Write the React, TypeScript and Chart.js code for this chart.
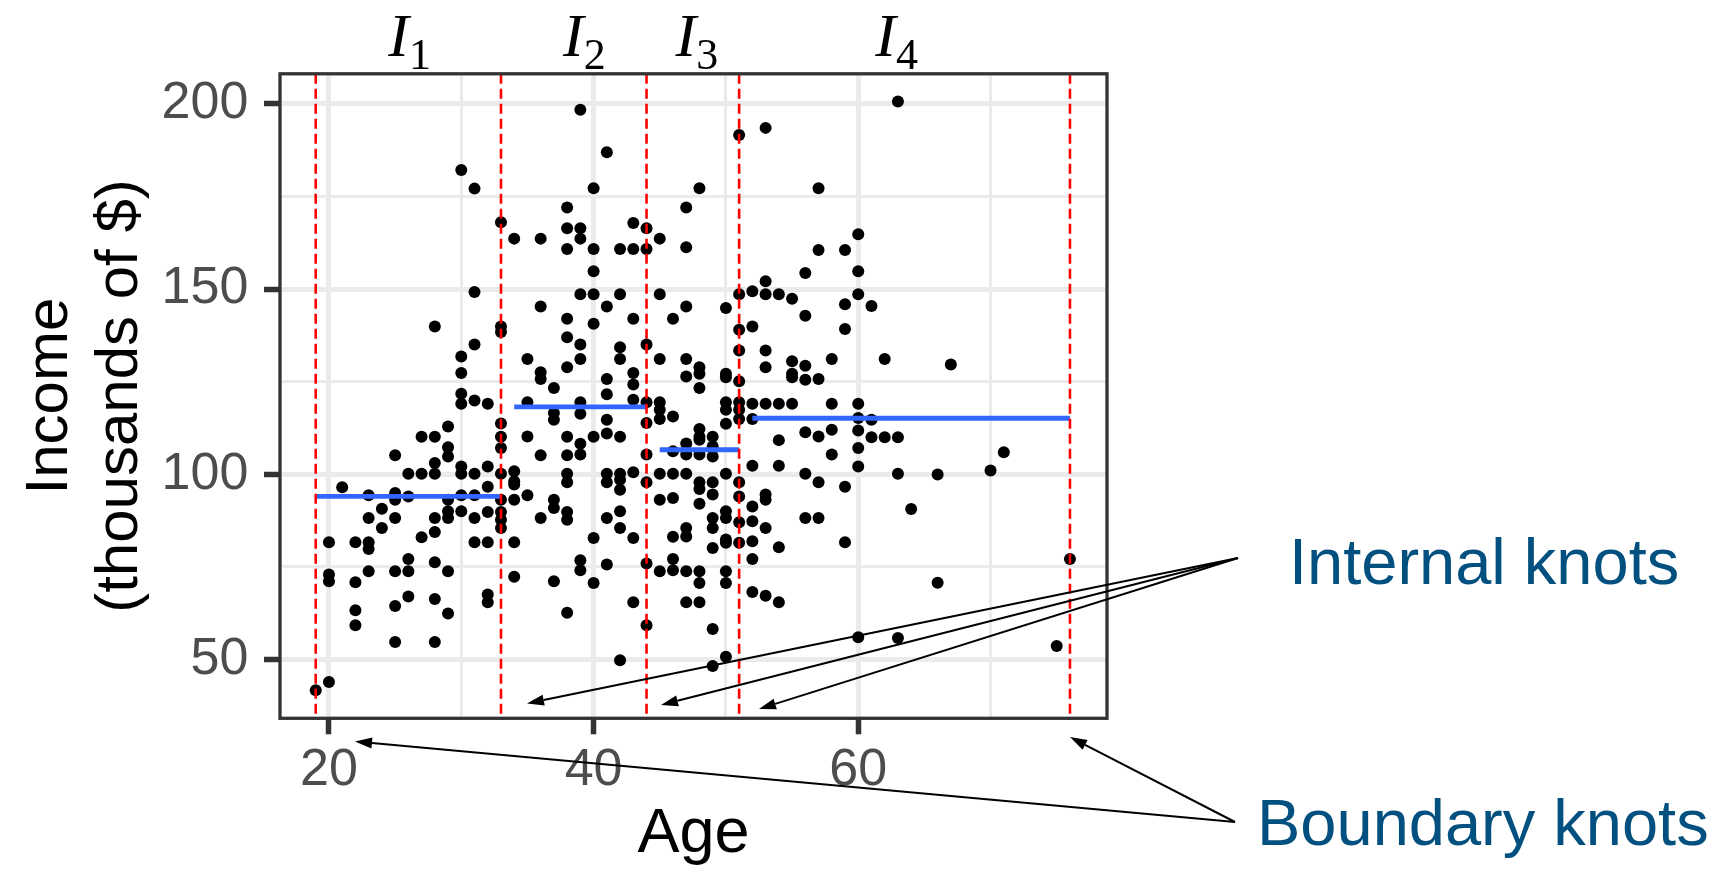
import React, { useEffect, useRef } from "react";
import { Chart, registerables } from "chart.js";

Chart.register(...registerables);

// ---- data ----
const ages = [
  19,
  20, 20, 20, 20,
  21,
  22, 22, 22, 22,
  23, 23, 23, 23, 23,
  24, 24,
  25, 25, 25, 25, 25, 25, 25,
  26, 26, 26, 26, 26,
  27, 27, 27,
  28, 28, 28, 28, 28, 28, 28, 28, 28,
  29, 29, 29, 29, 29, 29, 29, 29,
  30, 30, 30, 30, 30, 30, 30, 30, 30,
  31, 31, 31, 31, 31, 31, 31, 31,
  32, 32, 32, 32, 32, 32, 32,
  33, 33, 33, 33, 33, 33, 33, 33, 33, 33, 33,
  34, 34, 34, 34, 34, 34, 34,
  35, 35, 35, 35,
  36, 36, 36, 36, 36, 36,
  37, 37, 37, 37, 37, 37,
  38, 38, 38, 38, 38, 38, 38, 38, 38, 38, 38, 38, 38,
  39, 39, 39, 39, 39, 39, 39, 39, 39, 39, 39, 39,
  40, 40, 40, 40, 40, 40, 40, 40,
  41, 41, 41, 41, 41, 41, 41, 41, 41, 41,
  42, 42, 42, 42, 42, 42, 42, 42, 42, 42, 42,
  43, 43, 43, 43, 43, 43, 43, 43, 43,
  44, 44, 44, 44, 44, 44, 44, 44, 44,
  45, 45, 45, 45, 45, 45, 45, 45, 45,
  46, 46, 46, 46, 46, 46, 46, 46,
  47, 47, 47, 47, 47, 47, 47, 47, 47, 47, 47, 47,
  48, 48, 48, 48, 48, 48, 48, 48, 48, 48, 48, 48, 48, 48,
  49, 49, 49, 49, 49, 49, 49, 49, 49, 49,
  50, 50, 50, 50, 50, 50, 50, 50, 50, 50, 50, 50, 50, 50,
  51, 51, 51, 51, 51, 51, 51, 51, 51, 51, 51, 51,
  52, 52, 52, 52, 52, 52, 52, 52, 52, 52,
  53, 53, 53, 53, 53, 53, 53, 53, 53, 53,
  54, 54, 54, 54, 54, 54,
  55, 55, 55, 55, 55,
  56, 56, 56, 56, 56, 56, 56,
  57, 57, 57, 57, 57, 57,
  58, 58, 58, 58,
  59, 59, 59, 59, 59,
  60, 60, 60, 60, 60, 60, 60, 60, 60,
  61, 61, 61,
  62, 62,
  63, 63, 63, 63,
  64,
  66, 66,
  67,
  70,
  71,
  75,
  76,
];

const incomes = [
  41.7,
  81.6, 72.9, 71.1, 43.9,
  96.5,
  81.6, 70.8, 63.3, 59.2,
  94.3, 88.2, 81.6, 79.8, 73.8,
  90.7, 85.5,
  105.1, 94.9, 93.1, 88.2, 73.8, 64.4, 54.7,
  100.1, 94.0, 77.1, 73.8, 67.0,
  110.1, 100.1, 83.0,
  139.9, 110.1, 103.0, 100.1, 88.2, 84.4, 76.2, 66.3, 54.7,
  112.9, 107.3, 104.8, 93.1, 90.0, 88.2, 73.8, 62.4,
  182.1, 131.8, 127.3, 121.7, 119.0, 102.1, 100.1, 94.3, 90.0,
  177.1, 149.2, 135.0, 119.9, 100.1, 94.3, 88.2, 81.6,
  119.0, 102.1, 96.6, 89.8, 81.6, 67.5, 65.4,
  168.0, 139.9, 138.4, 113.7, 110.1, 107.1, 100.1, 93.1, 89.8, 87.7, 85.5,
  163.6, 100.8, 98.1, 97.2, 93.1, 81.6, 72.3,
  131.1, 119.4, 110.2, 94.3,
  163.6, 145.3, 127.5, 125.7, 105.1, 88.2,
  123.3, 116.5, 114.7, 93.1, 90.9, 71.1,
  172.0, 166.4, 160.8, 142.0, 137.0, 128.9, 110.1, 105.1, 100.1, 97.8, 89.8, 87.7, 62.6,
  198.4, 166.4, 163.6, 148.6, 135.0, 131.1, 119.4, 116.3, 108.2, 105.3, 76.8, 74.1,
  177.2, 160.8, 154.8, 148.6, 140.6, 110.1, 82.8, 70.6,
  186.9, 145.3, 125.7, 121.6, 114.7, 111.0, 100.1, 97.8, 88.2, 75.6,
  160.8, 148.6, 134.3, 131.1, 110.1, 100.1, 98.5, 95.8, 90.0, 85.5, 49.8,
  167.8, 160.8, 142.0, 127.3, 124.2, 120.1, 100.5, 82.8, 65.4,
  166.4, 160.8, 135.0, 119.4, 113.8, 105.3, 97.8, 75.9, 59.2,
  163.6, 148.6, 131.1, 119.4, 117.4, 114.9, 100.1, 93.1, 73.8,
  142.0, 115.6, 106.2, 100.1, 93.6, 83.1, 77.1, 74.1,
  172.0, 161.3, 145.3, 131.1, 126.4, 108.3, 105.3, 100.1, 85.5, 83.2, 73.8, 65.4,
  177.2, 128.9, 127.1, 123.3, 112.2, 110.1, 109.3, 105.3, 97.8, 96.0, 92.0, 73.8, 70.6, 65.4,
  110.1, 107.5, 104.8, 97.8, 94.5, 88.2, 85.5, 80.1, 58.2, 48.2,
  144.9, 127.1, 126.2, 119.4, 117.4, 113.6, 100.1, 90.0, 88.2, 82.4, 81.5, 73.8, 70.6, 50.7,
  191.6, 148.6, 139.0, 133.4, 125.1, 119.4, 117.4, 114.9, 97.8, 94.0, 87.0, 81.5,
  149.4, 139.9, 119.0, 114.9, 102.3, 91.3, 87.3, 81.9, 77.1, 68.2,
  193.5, 152.1, 148.6, 133.4, 128.9, 119.0, 94.5, 93.1, 85.5, 67.2,
  148.6, 119.0, 109.2, 102.3, 80.3, 65.4,
  147.4, 130.5, 127.1, 126.2, 119.0,
  154.3, 142.8, 129.3, 125.5, 111.3, 100.1, 88.2,
  177.2, 160.5, 125.7, 110.2, 97.8, 88.2,
  131.1, 119.0, 112.0, 105.3,
  160.5, 145.9, 139.2, 96.6, 81.6,
  164.8, 154.8, 148.6, 119.0, 115.2, 111.8, 107.1, 102.1, 56.0,
  145.4, 114.7, 110.0,
  131.1, 110.0,
  200.6, 110.0, 100.1, 55.8,
  90.6,
  99.9, 70.7,
  129.6,
  101.0,
  105.9,
  53.6,
  77.1,
];

const knots = [19, 33, 44, 51, 76];
const stepStarts = [19, 34, 45, 52];
const stepEnds = [33, 44, 51, 76];
const stepMeans = [94.0, 118.2, 106.6, 115.1];
const intervalSubscripts = ["1", "2", "3", "4"];

const xMajorTicks = [20, 40, 60];
const xMinorTicks = [30, 50, 70];
const yMajorTicks = [50, 100, 150, 200];
const yMinorTicks = [75, 125, 175];
const xRange = [16.3, 78.8];
const yRange = [34.1, 208.1];

const xTitle = "Age";
const yTitle = ["Income", "(thousands of $)"];
const internalLabel = "Internal knots";
const boundaryLabel = "Boundary knots";

const SANS = "'Liberation Sans', Arial, Helvetica, sans-serif";
const SERIF = "'Liberation Serif', 'Times New Roman', serif";

// label anchors (in age units) for the interval names above the panel
const intervalLabelAnchors = [26.1, 39.3, 47.8, 62.9];

function drawArrow(ctx: CanvasRenderingContext2D, x0: number, y0: number, x1: number, y1: number) {
  const ang = Math.atan2(y1 - y0, x1 - x0);
  const len = 17;
  const hw = 5.5;
  const bx = x1 - len * Math.cos(ang);
  const by = y1 - len * Math.sin(ang);
  ctx.beginPath();
  ctx.moveTo(x0, y0);
  ctx.lineTo(bx, by);
  ctx.stroke();
  ctx.beginPath();
  ctx.moveTo(x1, y1);
  ctx.lineTo(bx - hw * Math.sin(ang), by + hw * Math.cos(ang));
  ctx.lineTo(bx + hw * Math.sin(ang), by - hw * Math.cos(ang));
  ctx.closePath();
  ctx.fill();
}

const panelBorderPlugin = {
  id: "panelBorder",
  afterDatasetsDraw(chart: any) {
    const { ctx, chartArea } = chart;
    ctx.save();
    ctx.strokeStyle = "#333333";
    ctx.lineWidth = 3.3;
    ctx.strokeRect(chartArea.left, chartArea.top, chartArea.right - chartArea.left, chartArea.bottom - chartArea.top);
    ctx.restore();
  },
};

const annotationPlugin = {
  id: "annotations",
  afterDraw(chart: any) {
    const { ctx } = chart;
    const xs = chart.scales.x;
    ctx.save();
    // interval labels I_1 ... I_4
    for (let i = 0; i < intervalSubscripts.length; i++) {
      const px = xs.getPixelForValue(intervalLabelAnchors[i]);
      ctx.font = `italic 62px ${SERIF}`;
      const wI = ctx.measureText("I").width;
      ctx.font = `44px ${SERIF}`;
      const wS = ctx.measureText(intervalSubscripts[i]).width;
      const total = wI + wS;
      const start = px - total / 2;
      ctx.fillStyle = "#000000";
      ctx.textAlign = "left";
      ctx.textBaseline = "alphabetic";
      ctx.font = `italic 62px ${SERIF}`;
      ctx.fillText("I", start, 56);
      ctx.font = `44px ${SERIF}`;
      ctx.fillText(intervalSubscripts[i], start + wI, 69);
    }
    // arrows
    ctx.strokeStyle = "#000000";
    ctx.fillStyle = "#000000";
    ctx.lineWidth = 2;
    const intTail = [1238, 558];
    const intTips = [[527, 703.5], [661, 705], [759, 709]];
    intTips.forEach((t) => drawArrow(ctx, intTail[0], intTail[1], t[0], t[1]));
    const bTail = [1235, 822];
    const bTips = [[355, 741.5], [1070, 737]];
    bTips.forEach((t) => drawArrow(ctx, bTail[0], bTail[1], t[0], t[1]));
    // labels
    ctx.fillStyle = "#02507F";
    ctx.font = `65px ${SANS}`;
    ctx.textAlign = "left";
    ctx.textBaseline = "alphabetic";
    ctx.fillText(internalLabel, 1289, 584);
    ctx.fillText(boundaryLabel, 1257, 845);
    ctx.restore();
  },
};

export default function App() {
  const canvasRef = useRef<HTMLCanvasElement | null>(null);

  useEffect(() => {
    if (!canvasRef.current) return;
    const isXMajor = (v: number) => xMajorTicks.includes(v);
    const isYMajor = (v: number) => yMajorTicks.includes(v);

    const pointData = ages.map((a, i) => ({ x: a, y: incomes[i] }));

    const stepSets = stepStarts.map((s, i) => ({
      type: "line" as const,
      data: [
        { x: s, y: stepMeans[i] },
        { x: stepEnds[i], y: stepMeans[i] },
      ],
      borderColor: "#3366FF",
      borderWidth: 4.8,
      pointRadius: 0,
      showLine: true,
      borderCapStyle: "butt" as const,
      order: 2,
    }));

    const knotSets = knots.map((k) => ({
      type: "line" as const,
      data: [
        { x: k, y: yRange[1] },
        { x: k, y: yRange[0] },
      ],
      borderColor: "#FF0000",
      borderWidth: 2.6,
      borderDash: [10, 5],
      pointRadius: 0,
      showLine: true,
      order: 1,
    }));

    const chart = new Chart(canvasRef.current, {
      type: "scatter",
      data: {
        datasets: [
          {
            data: pointData,
            backgroundColor: "#000000",
            borderWidth: 0,
            pointRadius: 6,
            order: 3,
          } as any,
          ...(stepSets as any[]),
          ...(knotSets as any[]),
        ],
      },
      options: {
        animation: false,
        responsive: false,
        devicePixelRatio: 1,
        events: [],
        layout: { padding: { left: 0, top: 73.8, right: 627, bottom: 0 } },
        plugins: { legend: { display: false }, tooltip: { enabled: false } },
        scales: {
          x: {
            type: "linear",
            min: xRange[0],
            max: xRange[1],
            afterBuildTicks: (scale: any) => {
              scale.ticks = [...xMajorTicks, ...xMinorTicks].sort((a, b) => a - b).map((v) => ({ value: v }));
            },
            afterFit: (scale: any) => {
              scale.height = 871 - 718.3;
            },
            border: { display: false },
            grid: {
              color: "#EBEBEB",
              lineWidth: (c: any) => (c.tick && isXMajor(c.tick.value) ? 5 : 3),
              tickColor: (c: any) => (c.tick && isXMajor(c.tick.value) ? "#333333" : "rgba(0,0,0,0)"),
              tickWidth: (c: any) => (c.tick && isXMajor(c.tick.value) ? 5.5 : 0),
              tickLength: 16,
            },
            ticks: {
              autoSkip: false,
              maxRotation: 0,
              padding: 5,
              color: "#4D4D4D",
              font: { family: SANS, size: 52 },
              callback: (v: any) => (isXMajor(Number(v)) ? String(v) : ""),
            },
            title: {
              display: true,
              text: xTitle,
              color: "#000000",
              font: { family: SANS, size: 63, lineHeight: 1.15 },
              padding: { top: 0, bottom: 0 },
            },
          },
          y: {
            type: "linear",
            min: yRange[0],
            max: yRange[1],
            afterBuildTicks: (scale: any) => {
              scale.ticks = [...yMajorTicks, ...yMinorTicks].sort((a, b) => a - b).map((v) => ({ value: v }));
            },
            afterFit: (scale: any) => {
              scale.width = 280;
            },
            border: { display: false },
            grid: {
              color: "#EBEBEB",
              lineWidth: (c: any) => (c.tick && isYMajor(c.tick.value) ? 5 : 3),
              tickColor: (c: any) => (c.tick && isYMajor(c.tick.value) ? "#333333" : "rgba(0,0,0,0)"),
              tickWidth: (c: any) => (c.tick && isYMajor(c.tick.value) ? 5.5 : 0),
              tickLength: 16,
            },
            ticks: {
              autoSkip: false,
              padding: 15.7,
              color: "#4D4D4D",
              font: { family: SANS, size: 52 },
              callback: (v: any) => (isYMajor(Number(v)) ? String(v) : ""),
            },
            title: {
              display: true,
              text: yTitle,
              color: "#000000",
              font: { family: SANS, size: 60, lineHeight: 1.167 },
              padding: { top: 15, bottom: 0 },
            },
          },
        },
      },
      plugins: [panelBorderPlugin, annotationPlugin],
    });
    return () => chart.destroy();
  }, []);

  return (
    <div style={{ position: "absolute", left: 0, top: 0, width: 1734, height: 871, background: "#ffffff" }}>
      <canvas ref={canvasRef} width={1734} height={871} style={{ width: 1734, height: 871, display: "block" }} />
    </div>
  );
}
